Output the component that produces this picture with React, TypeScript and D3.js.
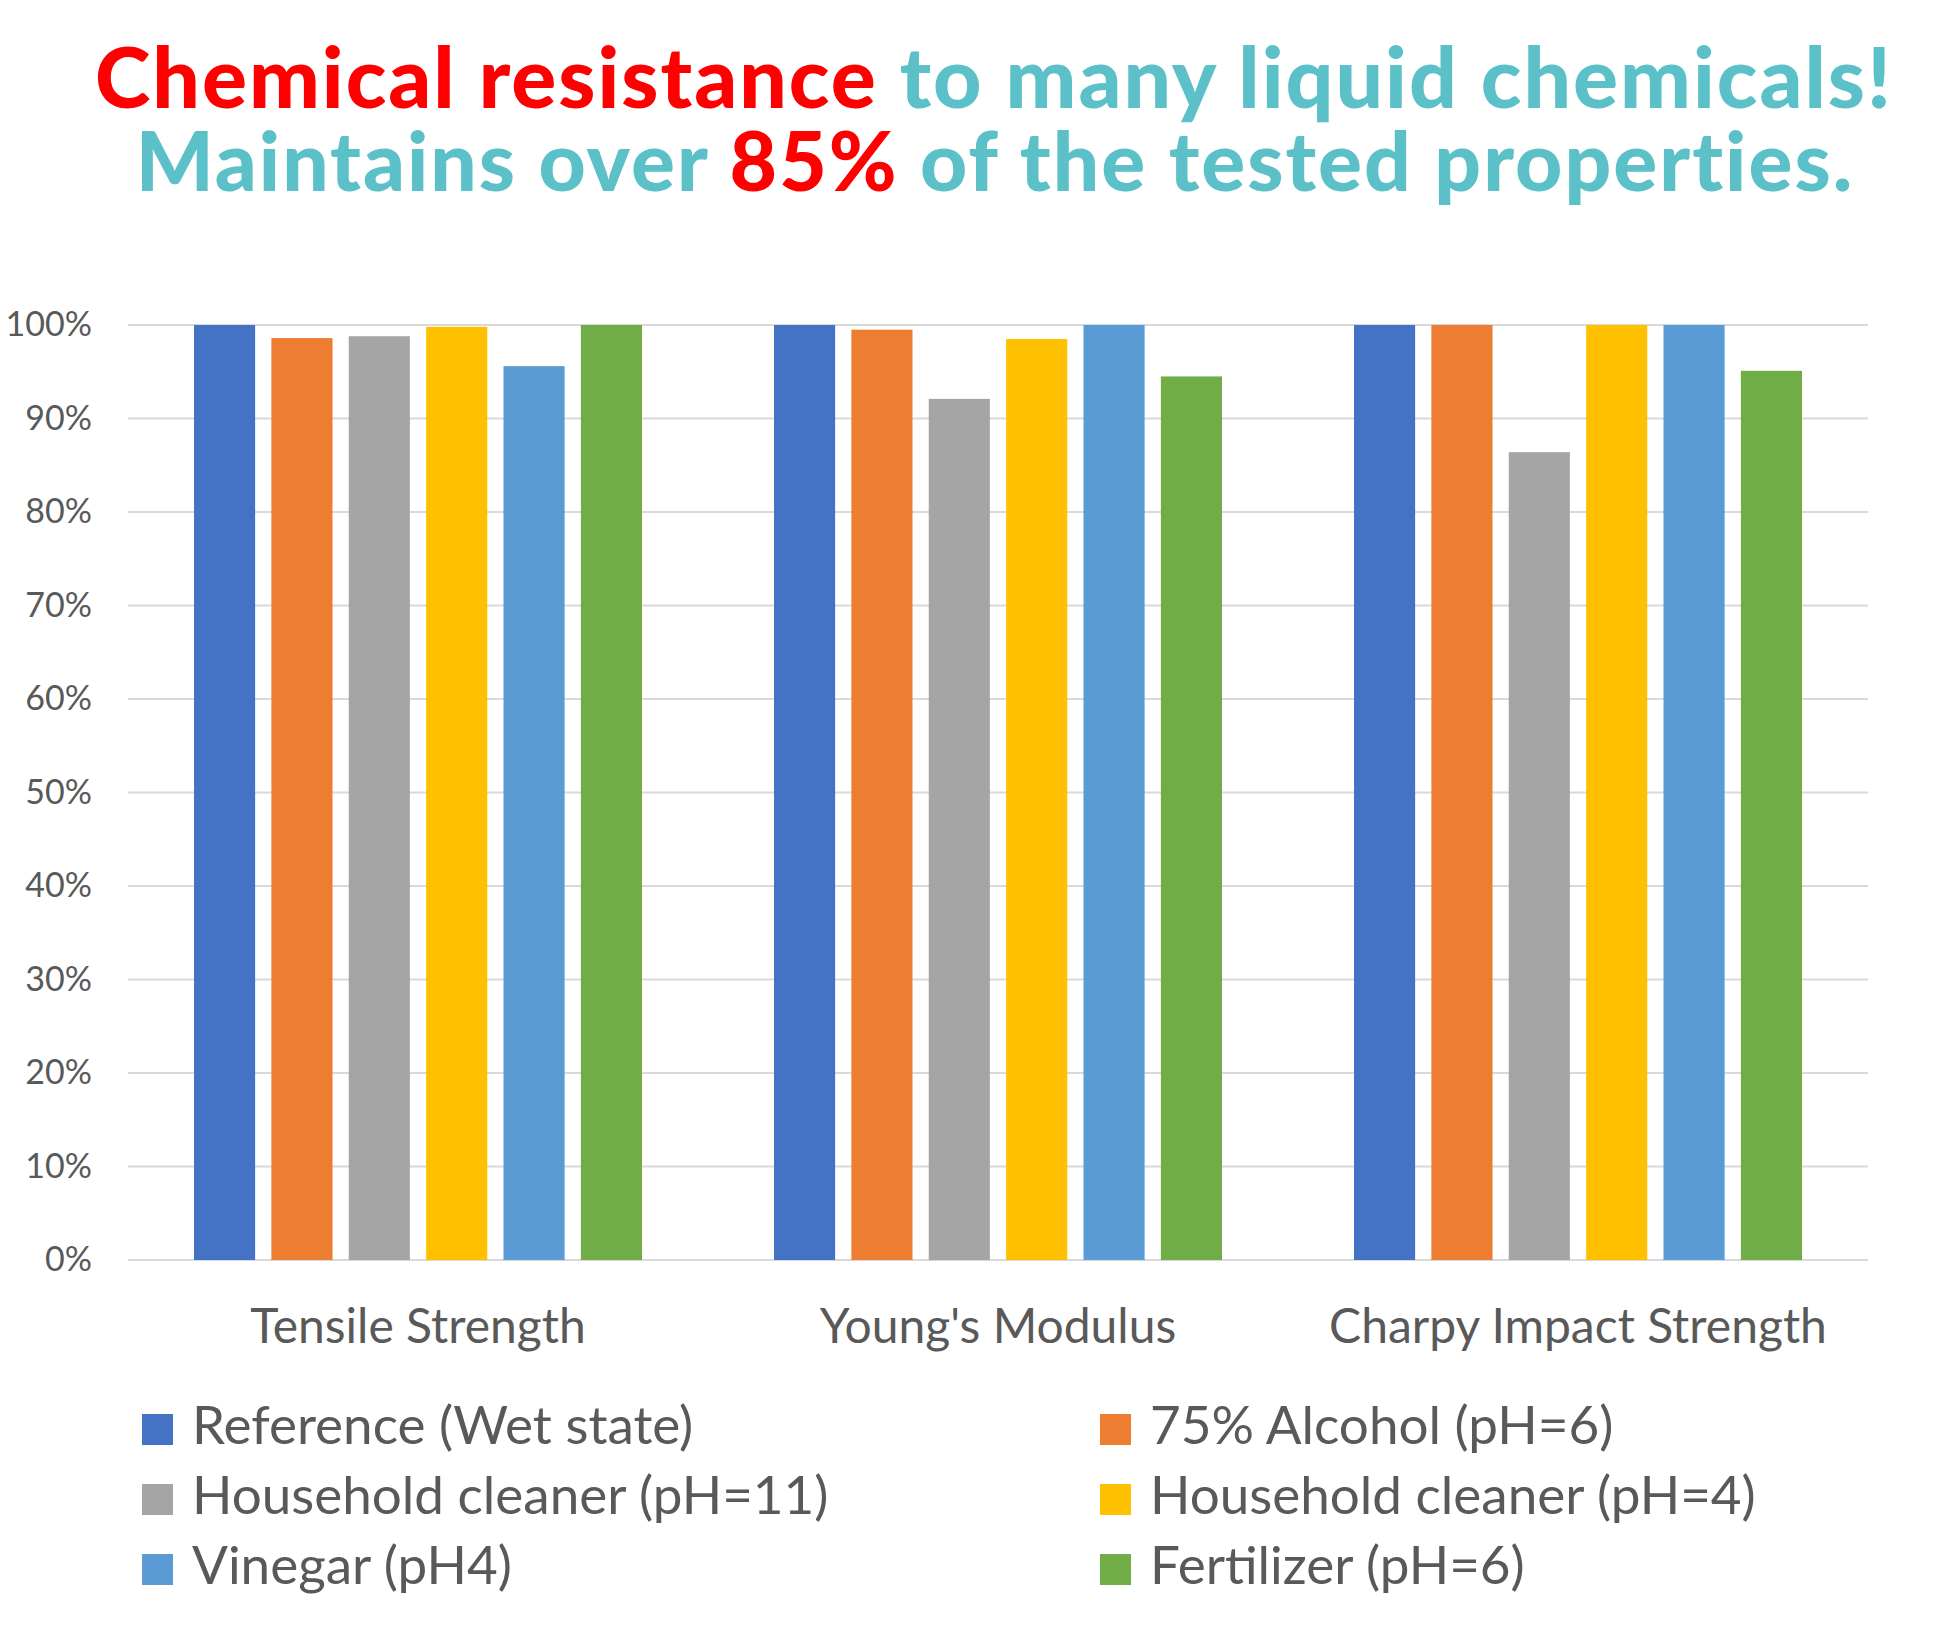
import React, { useEffect, useRef } from 'react';
import * as d3 from 'd3';

const categories = ['Tensile Strength', "Young's Modulus", 'Charpy Impact Strength'];
const seriesNames = [
  'Reference (Wet state)',
  '75% Alcohol (pH=6)',
  'Household cleaner (pH=11)',
  'Household cleaner (pH=4)',
  'Vinegar (pH4)',
  'Fertilizer (pH=6)',
];
const colors = ['#4472C4', '#ED7D31', '#A5A5A5', '#FFC000', '#5B9BD5', '#70AD47'];

// values per series, one per category
const reference = [1.0, 1.0, 1.0];
const alcohol = [0.986, 0.995, 1.0];
const cleanerPh11 = [0.988, 0.921, 0.864];
const cleanerPh4 = [0.998, 0.985, 1.0];
const vinegar = [0.956, 1.0, 1.0];
const fertilizer = [1.0, 0.945, 0.951];
const seriesValues = [reference, alcohol, cleanerPh11, cleanerPh4, vinegar, fertilizer];

const yTicks = [0, 0.1, 0.2, 0.3, 0.4, 0.5, 0.6, 0.7, 0.8, 0.9, 1.0];

// title lines as coloured segments
const RED = '#FF0000';
const TEAL = '#5BC0C8';
const titleLine1 = [
  { t: 'Chemical resistance ', c: RED },
  { t: 'to many liquid chemicals!', c: TEAL },
];
const titleLine2 = [
  { t: 'Maintains over ', c: TEAL },
  { t: '85%', c: RED },
  { t: ' of the tested properties.', c: TEAL },
];

const W = 1946;
const H = 1629;
const font = 'Lato, "Open Sans", sans-serif';

export default function App() {
  const ref = useRef<SVGSVGElement>(null);

  useEffect(() => {
    if (!ref.current) return;
    const svg = d3.select(ref.current);
    svg.selectAll('*').remove();

    const left = 128, right = 1868, top = 325, bottom = 1260;

    const x0 = d3.scaleBand().domain(categories).range([left, right]);
    const groupPad = 66;
    const x1 = d3.scaleBand().domain(seriesNames)
      .range([groupPad, x0.bandwidth() - groupPad]).paddingInner(0.21);
    const y = d3.scaleLinear().domain([0, 1]).range([bottom, top]);

    // title: each segment its own text, laid out side by side
    const drawLine = (segs: { t: string; c: string }[], cx: number, baseline: number, size: number) => {
      const nodes = segs.map(s => svg.append('text')
        .attr('y', baseline).attr('font-family', font).attr('font-weight', 900)
        .attr('font-size', size).attr('letter-spacing', 2)
        .style('white-space', 'pre').attr('fill', s.c).text(s.t));
      const widths = nodes.map(n => (n.node() as SVGTextElement).getComputedTextLength());
      let x = cx - d3.sum(widths) / 2;
      nodes.forEach((n, i) => { n.attr('x', x); x += widths[i]; });
    };
    drawLine(titleLine1, 994, 108, 84);
    drawLine(titleLine2, 995, 191, 82);

    // gridlines + y labels
    svg.append('g').selectAll('line').data(yTicks).enter().append('line')
      .attr('x1', left).attr('x2', right)
      .attr('y1', d => y(d)).attr('y2', d => y(d))
      .attr('stroke', '#D9D9D9').attr('stroke-width', 2);
    svg.append('g').selectAll('text').data(yTicks).enter().append('text')
      .attr('x', 92).attr('y', d => y(d)).attr('dy', '0.33em')
      .attr('text-anchor', 'end').attr('font-family', font).attr('font-size', 34)
      .attr('fill', '#595959').text(d => d3.format('.0%')(d));

    // bars
    const groups = svg.append('g').selectAll('g').data(categories).enter().append('g')
      .attr('transform', c => `translate(${x0(c)},0)`);
    groups.selectAll('rect')
      .data((c, ci) => seriesNames.map((s, si) => ({ s, v: seriesValues[si][ci], color: colors[si] })))
      .enter().append('rect')
      .attr('x', d => x1(d.s)!).attr('width', x1.bandwidth())
      .attr('y', d => y(d.v)).attr('height', d => y(0) - y(d.v))
      .attr('fill', d => d.color);

    // category labels
    svg.append('g').selectAll('text').data(categories).enter().append('text')
      .attr('x', c => x0(c)! + x0.bandwidth() / 2).attr('y', 1343)
      .attr('text-anchor', 'middle').attr('font-family', font).attr('font-size', 48)
      .attr('fill', '#595959').text(c => c);

    // legend
    const lg = svg.append('g').selectAll('g').data(seriesNames).enter().append('g')
      .attr('transform', (s, i) => `translate(${i % 2 === 0 ? 142 : 1100},${1414 + Math.floor(i / 2) * 70})`);
    lg.append('rect').attr('width', 31).attr('height', 31).attr('fill', (s, i) => colors[i]);
    lg.append('text').attr('x', 50).attr('y', 30).attr('font-family', font).attr('font-size', 53)
      .attr('fill', '#595959').text(s => s);
  }, []);

  return (
    <svg ref={ref} width={W} height={H}
      style={{ position: 'absolute', left: 0, top: 0, display: 'block', background: '#fff' }} />
  );
}
